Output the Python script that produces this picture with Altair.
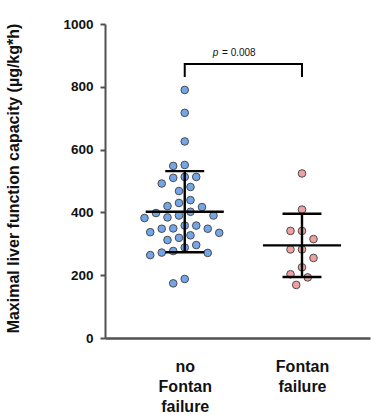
import json
import altair as alt
import pandas as pd

# ---- data ----
groups = ["no Fontan failure", "Fontan failure"]
no_failure = [790, 717, 626, 548, 551, 510, 492, 513, 513, 481, 468, 430, 439, 420, 417,
              398, 390, 390, 384, 402, 382, 349, 358, 358, 335, 337, 348, 348, 319, 327,
              312, 288, 296, 272, 264, 277, 271, 174, 188]
failure = [524, 409, 341, 341, 315, 282, 282, 255, 225, 203, 193, 169]
p_value = 0.008
y_ticks = [0, 200, 400, 600, 800, 1000]
y_title = "Maximal liver function capacity (µg/kg*h)"
colors = ["#72a6e8", "#f0a0a2"]

# ---- layout ----
W, H = 265, 314
XDOM = [0.32, 2.58]
YDOM = [0, 1000]
px_x = W / (XDOM[1] - XDOM[0])
px_y = H / (YDOM[1] - YDOM[0])


def swarm(vals, d=11.0, step=5.75):
    """Greedy beeswarm: horizontal offsets (in x units) so dots do not overlap."""
    placed = []
    offs = [0.0] * len(vals)
    order = sorted(range(len(vals)), key=lambda i: -vals[i])
    for i in order:
        y = vals[i] * px_y
        k = 0
        found = None
        while found is None:
            cands = [0.0] if k == 0 else [-k * step, k * step]
            for c in cands:
                if all((c - a) ** 2 + (y - b) ** 2 >= d * d for a, b in placed):
                    found = c
                    break
            k += 1
        placed.append((found, y))
        offs[i] = found / px_x
    return offs


rows = []
for gi, (name, vals) in enumerate(zip(groups, [no_failure, failure]), start=1):
    for v, o in zip(vals, swarm(vals)):
        rows.append({"g": gi, "group": name, "value": v, "x": gi + o})
df = pd.DataFrame(rows)

xs = alt.Scale(domain=XDOM, nice=False, zero=False)
ys = alt.Scale(domain=YDOM, nice=False, zero=False)

label_map = {str(i + 1): g.split(" ") for i, g in enumerate(groups)}
label_expr = f"{json.dumps(label_map)}[datum.label]"

FONT = "Liberation Sans"
AX = "#505050"

xaxis = alt.Axis(
    values=[1, 2], labelExpr=label_expr, ticks=False, grid=False, title=None,
    domainColor=AX, domainWidth=2.5, labelFont=FONT, labelFontSize=16,
    labelFontWeight="bold", labelColor="#111", labelLineHeight=20,
    labelPadding=20, labelFlush=False)
yaxis = alt.Axis(
    values=y_ticks, format="d", grid=False, title=y_title, tickSize=5, tickWidth=2,
    tickColor=AX, domainColor=AX, domainWidth=2, labelFont=FONT,
    labelFontSize=13.5, labelFontWeight="bold", labelColor="#111", labelPadding=7,
    titleFont=FONT, titleFontSize=16, titleFontWeight="bold", titleColor="#111",
    titleX=-84, titleY=154, titleAngle=-90, titleBaseline="bottom")


def X(f):
    return alt.X(f, scale=xs, axis=xaxis)


def Y(f):
    return alt.Y(f, scale=ys, axis=yaxis)


points = alt.Chart(df).mark_circle(size=58, opacity=1, stroke="#4a4a4a", strokeWidth=1).encode(
    x=X("x:Q"), y=Y("value:Q"),
    color=alt.Color("group:N", scale=alt.Scale(domain=groups, range=colors), legend=None),
)

stats = alt.Chart(df).transform_aggregate(
    m="mean(value)", s="stdev(value)", groupby=["g"]
).transform_calculate(
    lo="datum.m - datum.s", hi="datum.m + datum.s",
    xl="datum.g - 0.333", xr="datum.g + 0.333",
    cl="datum.g - 0.166", cr="datum.g + 0.166",
)
rule = dict(color="black", strokeWidth=2.4)
mean_line = stats.mark_rule(**rule).encode(x=X("xl:Q"), x2="xr:Q", y=Y("m:Q"))
sd_line = stats.mark_rule(**rule).encode(x=X("g:Q"), y=Y("lo:Q"), y2="hi:Q")
cap_hi = stats.mark_rule(**rule).encode(x=X("cl:Q"), x2="cr:Q", y=Y("hi:Q"))
cap_lo = stats.mark_rule(**rule).encode(x=X("cl:Q"), x2="cr:Q", y=Y("lo:Q"))

# significance bracket between the two groups
br_top, br_bot = 873, 831
bracket_df = pd.DataFrame({"x": [1, 1, 2, 2], "y": [br_bot, br_top, br_top, br_bot],
                           "o": [0, 1, 2, 3]})
bracket = alt.Chart(bracket_df).mark_line(color="black", strokeWidth=2).encode(
    x=X("x:Q"), y=Y("y:Q"), order="o:Q")

p_df = pd.DataFrame({"x": [1.262], "y": [907], "t": ["p"]})
p_txt = alt.Chart(p_df).mark_text(font=FONT, fontSize=10, fontStyle="italic",
                                  align="center", baseline="middle", color="#111").encode(
    x=X("x:Q"), y=Y("y:Q"), text="t:N")
v_df = pd.DataFrame({"x": [1.318], "y": [907], "t": [f"= {p_value:.3f}"]})
v_txt = alt.Chart(v_df).mark_text(font=FONT, fontSize=10, align="left",
                                  baseline="middle", color="#111").encode(
    x=X("x:Q"), y=Y("y:Q"), text="t:N")

chart = alt.layer(points, mean_line, sd_line, cap_hi, cap_lo, bracket, p_txt, v_txt).properties(
    width=W, height=H,
    autosize=alt.AutoSizeParams(type="none"),
    padding={"left": 105, "top": 24, "right": 3, "bottom": 77},
).configure(background="white").configure_view(stroke=None)

chart.save("out.html", embed_options={"renderer": "svg", "actions": False})
